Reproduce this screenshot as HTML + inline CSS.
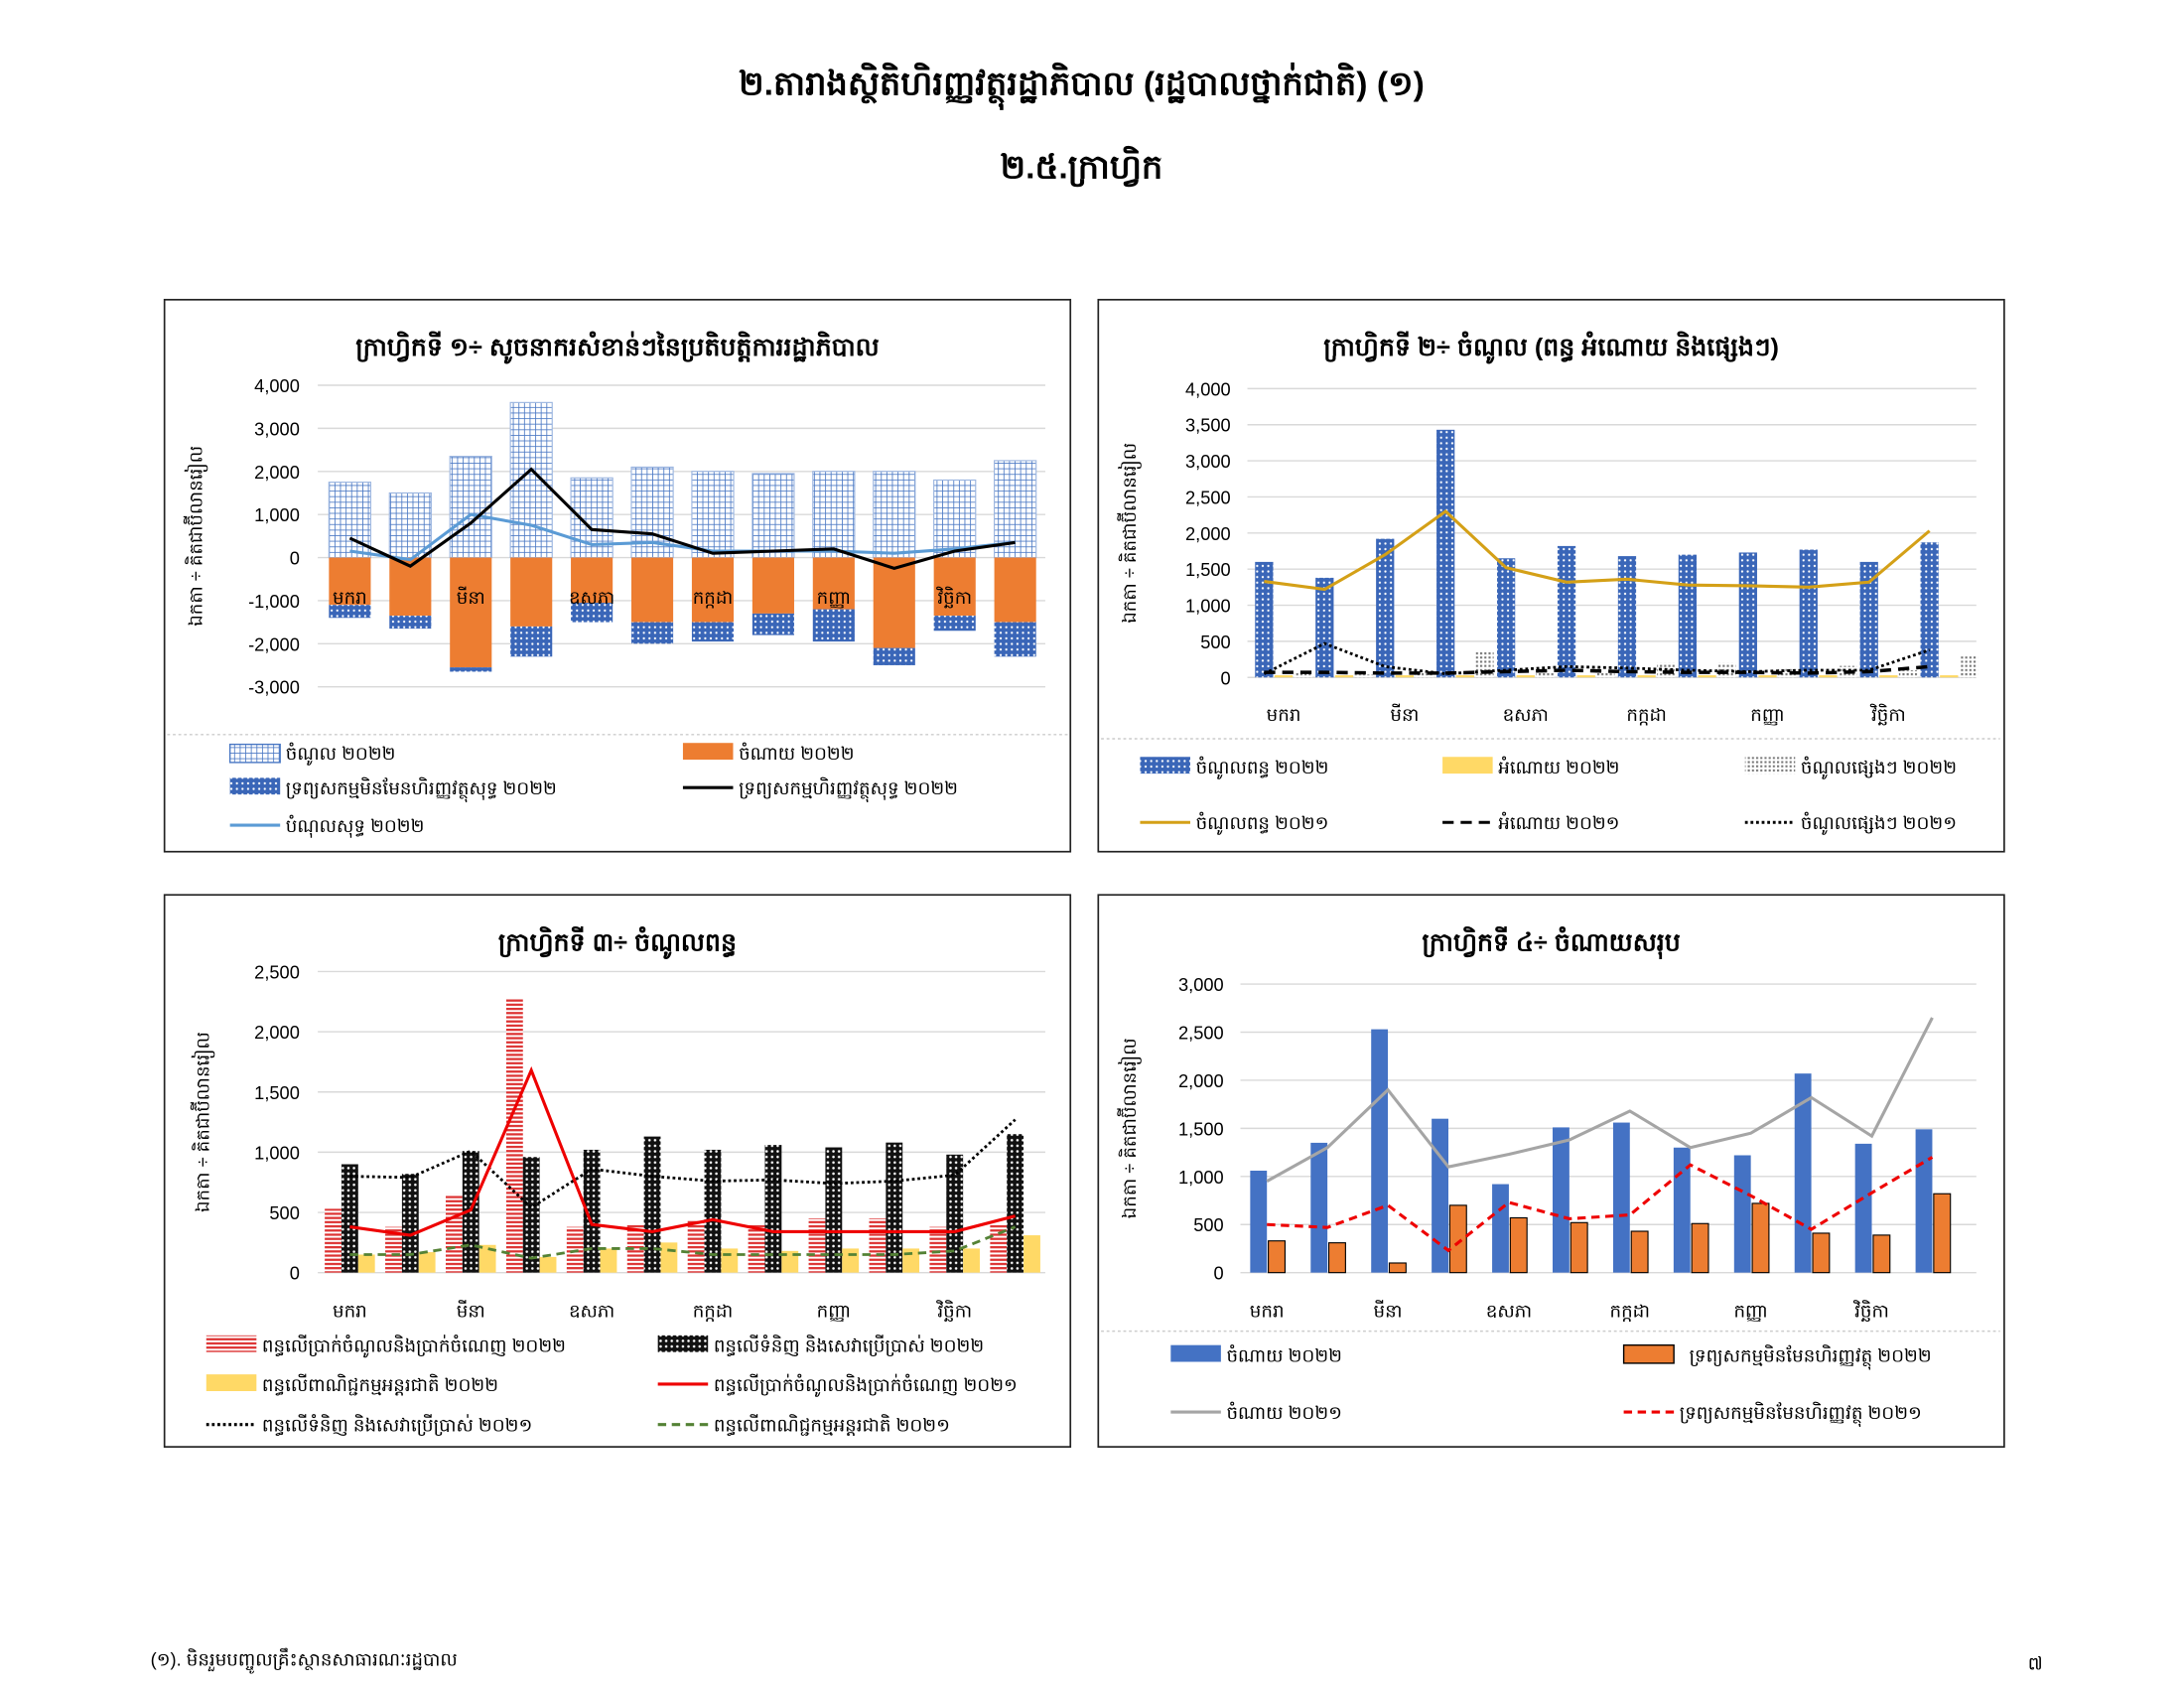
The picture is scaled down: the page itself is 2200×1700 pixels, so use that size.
<!DOCTYPE html>
<html><head><meta charset="utf-8">
<style>
html,body{margin:0;padding:0;background:#fff;}
svg{display:block;}
text{font-family:"Liberation Sans","Noto Sans CJK SC",sans-serif;}
</style></head>
<body>
<svg id="s" width="2200" height="1700" viewBox="0 0 1567 1211" preserveAspectRatio="none" xmlns="http://www.w3.org/2000/svg">
<defs>
<pattern id="grid" width="4" height="4" patternUnits="userSpaceOnUse"><rect width="4" height="4" fill="#fff"/><path d="M0 0H4M0 0V4" stroke="#4a78c4" stroke-width="1.2"/></pattern>
<pattern id="bdot" width="4" height="4" patternUnits="userSpaceOnUse"><rect width="4" height="4" fill="#3a66b8"/><circle cx="2" cy="2" r="0.8" fill="#fff"/></pattern>
<pattern id="stip" width="3" height="3" patternUnits="userSpaceOnUse"><rect width="3" height="3" fill="#fff"/><rect width="1.5" height="1.5" fill="#777"/></pattern>
<pattern id="rstr" width="4" height="3" patternUnits="userSpaceOnUse"><rect width="4" height="3" fill="#fff"/><rect width="4" height="1.6" fill="#d33"/></pattern>
<pattern id="chk" width="4" height="4" patternUnits="userSpaceOnUse"><rect width="4" height="4" fill="#111"/><circle cx="2" cy="2" r="0.9" fill="#fff"/></pattern>
</defs>
<g id="g"></g>
</svg>
<script>
const g=document.getElementById('g');let h='';
function t(x,y,s,sz,anc,w,extra){h+=`<text x="${x}" y="${y}" font-size="${sz||11}" text-anchor="${anc||'start'}" font-weight="${w||'normal'}" ${extra||''}>${s}</text>`;}
t(776,68,'២.តារាងស្ថិតិហិរញ្ញវត្ថុរដ្ឋាភិបាល (រដ្ឋបាលថ្នាក់ជាតិ) (១)',24,'middle','bold');
t(776,128,'២.៥.ក្រាហ្វិក',24,'middle','bold');
t(108,1195,'(១). មិនរួមបញ្ចូលគ្រឹះស្ថានសាធារណៈរដ្ឋបាល',13);
t(1455,1198,'៧',13);
const M=['មករា','មីនា','ឧសភា','កក្កដា','កញ្ញា','វិច្ឆិកា'];
function panel(x,y,title){h+=`<rect x="${x}" y="${y}" width="650" height="396" fill="#fff" stroke="#222" stroke-width="1.2"/>`;t(x+325,y+40,title,18,'middle','bold');}
function axis(x0,x1,ticks,yf,labx,ylab,ly){ticks.forEach(v=>{const yy=yf(v);h+=`<line x1="${x0}" x2="${x1}" y1="${yy}" y2="${yy}" stroke="#d9d9d9"/>`;t(labx,yy+5,v.toLocaleString('en-US'),13,'end');});
 t(0,0,'ឯកតា ÷ គិតជាប៊ីលានរៀល',13,'middle','',`transform="translate(${ly},${(yf(ticks[0])+yf(ticks[ticks.length-1]))/2}) rotate(-90)"`);}
function line(xs,d,yf,col,w,dash){h+=`<polyline fill="none" stroke="${col}" stroke-width="${w}" ${dash?`stroke-dasharray="${dash}"`:''} points="${d.map((v,i)=>xs[i]+','+yf(v)).join(' ')}"/>`;}
function bar(cx,w,v0,v1,yf,fill,st){const a=yf(v0),b=yf(v1);h+=`<rect x="${cx-w/2}" y="${Math.min(a,b)}" width="${w}" height="${Math.abs(a-b)}" fill="${fill}" ${st?`stroke="${st}" stroke-width="0.8"`:''}/>`;}
function lg(x,y,type,col,label,dash){if(type=='r')h+=`<rect x="${x}" y="${y-7}" width="${36}" height="12" fill="${col}"/>`;else h+=`<line x1="${x}" x2="${x+36}" y1="${y}" y2="${y}" stroke="${col}" stroke-width="2.2" ${dash?`stroke-dasharray="${dash}"`:''}/>`;t(x+40,y+5,label,13);}
const xs=[...Array(12)].map((_,i)=>251+i*43.4), xs2=xs.map(v=>v+670);

// Panel 1
panel(118,215,'ក្រាហ្វិកទី ១÷ សូចនាករសំខាន់ៗនៃប្រតិបត្តិការរដ្ឋាភិបាល');
let y1=v=>400-v*0.0309;
axis(228,750,[4000,3000,2000,1000,0,-1000,-2000,-3000],y1,215,y1,145);
const r=[1750,1500,2350,3600,1850,2100,2000,1950,2000,2000,1800,2250],ex=[-1100,-1350,-2550,-1600,-1050,-1500,-1500,-1300,-1200,-2100,-1350,-1500],nf=[-300,-300,-100,-700,-450,-500,-450,-500,-750,-400,-350,-800];
xs.forEach((x,i)=>{bar(x,30,0,r[i],y1,'url(#grid)','#9cb6e0');bar(x,30,0,ex[i],y1,'#ed7d31');bar(x,30,ex[i],ex[i]+nf[i],y1,'url(#bdot)');});
line(xs,[150,-50,1000,750,300,350,150,150,150,100,200,350],y1,'#5b9bd5',2.2);
line(xs,[450,-200,800,2050,650,550,100,150,200,-250,150,350],y1,'#000',2.2);
M.forEach((m,i)=>t(xs[i*2],433,m,13,'middle'));
h+=`<line x1="120" x2="766" y1="527" y2="527" stroke="#ccc" stroke-dasharray="2 2"/>`;
h+=`<rect x="165" y="534" width="36" height="13" fill="url(#grid)" stroke="#4a78c4"/>`;t(205,545,'ចំណូល ២០២២',13);
lg(490,540,'r','#ed7d31','ចំណាយ ២០២២');
lg(165,565,'r','url(#bdot)','ទ្រព្យសកម្មមិនមែនហិរញ្ញវត្ថុសុទ្ធ ២០២២');
lg(490,565,'l','#000','ទ្រព្យសកម្មហិរញ្ញវត្ថុសុទ្ធ ២០២២');
lg(165,592,'l','#5b9bd5','បំណុលសុទ្ធ ២០២២');

// Panel 2
panel(788,215,'ក្រាហ្វិកទី ២÷ ចំណូល (ពន្ធ អំណោយ និងផ្សេងៗ)');
let y2=v=>486-v*0.0518;
axis(895,1418,[4000,3500,3000,2500,2000,1500,1000,500,0],y2,883,y2,815);
const r2=[1600,1380,1920,3430,1650,1820,1680,1700,1730,1770,1600,1870],ot=[60,40,80,350,60,80,200,200,120,160,100,300];
xs2.forEach((x,i)=>{const c=x-14;bar(c,13,0,r2[i],y2,'url(#bdot)');bar(c+14,13,0,30,y2,'#ffd966');bar(c+28,13,0,ot[i],y2,'url(#stip)');});
const xc2=xs2.map(x=>x-14);
line(xc2,[1330,1220,1700,2300,1520,1320,1360,1280,1270,1250,1320,2030],y2,'#d4a017',2.2);
line(xc2,[70,70,60,60,80,100,80,70,70,60,80,150],y2,'#000',2.5,'8 5');
line(xc2,[50,470,150,50,100,150,130,100,80,100,100,380],y2,'#000',2,'2 2');
M.forEach((m,i)=>t(xc2[i*2]+14,517,m,13,'middle'));
h+=`<line x1="790" x2="1435" y1="530" y2="530" stroke="#ccc" stroke-dasharray="2 2"/>`;
lg(818,550,'r','url(#bdot)','ចំណូលពន្ធ ២០២២');lg(1035,550,'r','#ffd966','អំណោយ ២០២២');lg(1252,550,'r','url(#stip)','ចំណូលផ្សេងៗ ២០២២');
lg(818,590,'l','#d4a017','ចំណូលពន្ធ ២០២១');lg(1035,590,'l','#000','អំណោយ ២០២១','8 5');lg(1252,590,'l','#000','ចំណូលផ្សេងៗ ២០២១','2 2');

// Panel 3
panel(118,642,'ក្រាហ្វិកទី ៣÷ ចំណូលពន្ធ');
let y3=v=>913-v*0.0864;
axis(228,750,[2500,2000,1500,1000,500,0],y3,215,y3,150);
const a3=[530,380,650,2280,380,400,430,400,450,450,380,400],b3=[900,820,1010,960,1020,1130,1020,1060,1040,1080,980,1150],c3=[150,170,230,130,200,250,200,180,200,200,200,310];
xs.forEach((x,i)=>{bar(x-12,12,0,a3[i],y3,'url(#rstr)');bar(x,12,0,b3[i],y3,'url(#chk)');bar(x+12,12,0,c3[i],y3,'#ffd966');});
line(xs,[800,790,1010,540,860,800,760,770,740,760,810,1270],y3,'#000',2,'2 2');
line(xs,[150,150,230,120,200,200,150,150,150,150,180,380],y3,'#548235',2,'6 4');
line(xs,[380,310,520,1680,400,340,440,340,340,340,340,470],y3,'#e00',2.2);
M.forEach((m,i)=>t(xs[i*2],945,m,13,'middle'));
lg(148,965,'r','url(#rstr)','ពន្ធលើប្រាក់ចំណូលនិងប្រាក់ចំណេញ ២០២២');lg(472,965,'r','url(#chk)','ពន្ធលើទំនិញ និងសេវាប្រើប្រាស់ ២០២២');
lg(148,993,'r','#ffd966','ពន្ធលើពាណិជ្ជកម្មអន្តរជាតិ ២០២២');lg(472,993,'l','#e00','ពន្ធលើប្រាក់ចំណូលនិងប្រាក់ចំណេញ ២០២១');
lg(148,1022,'l','#000','ពន្ធលើទំនិញ និងសេវាប្រើប្រាស់ ២០២១','2 2');lg(472,1022,'l','#548235','ពន្ធលើពាណិជ្ជកម្មអន្តរជាតិ ២០២១','6 4');

// Panel 4
panel(788,642,'ក្រាហ្វិកទី ៤÷ ចំណាយសរុប');
let y4=v=>913-v*0.069;
axis(890,1418,[3000,2500,2000,1500,1000,500,0],y4,878,y4,815);
const a4=[1060,1350,2530,1600,920,1510,1560,1300,1220,2070,1340,1490],b4=[330,310,100,700,570,520,430,510,720,410,390,820];
const xc4=xs2.map(x=>x-12);
xc4.forEach((x,i)=>{bar(x-6,12,0,a4[i],y4,'#4472c4');bar(x+7,12,0,b4[i],y4,'#ed7d31','#000');});
line(xc4,[950,1300,1900,1100,1230,1380,1680,1300,1450,1820,1420,2650],y4,'#a5a5a5',2.2);
line(xc4,[500,470,700,230,730,560,600,1120,800,450,830,1200],y4,'#e00',2.2,'6 4');
M.forEach((m,i)=>t(xc4[i*2],945,m,13,'middle'));
h+=`<line x1="790" x2="1435" y1="955" y2="955" stroke="#ccc" stroke-dasharray="2 2"/>`;
lg(840,972,'r','#4472c4','ចំណាយ ២០២២');h+=`<rect x="1165" y="965" width="36" height="13" fill="#ed7d31" stroke="#000"/>`;t(1212,977,'ទ្រព្យសកម្មមិនមែនហិរញ្ញវត្ថុ ២០២២',13);
lg(840,1013,'l','#a5a5a5','ចំណាយ ២០២១');lg(1165,1013,'l','#e00','ទ្រព្យសកម្មមិនមែនហិរញ្ញវត្ថុ ២០២១','6 4');
g.innerHTML=h;
</script>
</body></html>
